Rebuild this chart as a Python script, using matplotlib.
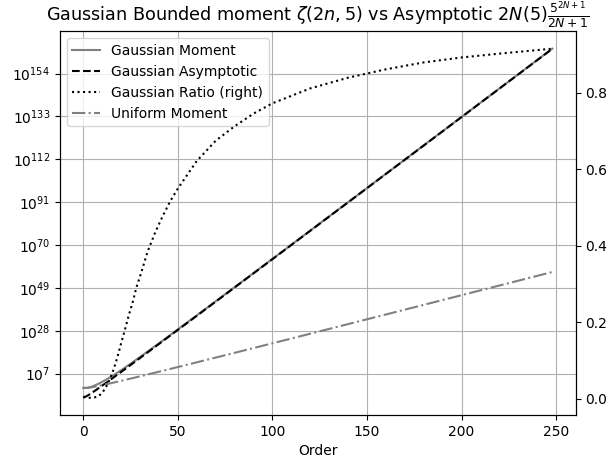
import numpy as np
import matplotlib
matplotlib.use("Agg")
import matplotlib.pyplot as plt
from matplotlib.ticker import NullLocator

order = [0, 2, 4, 6, 8, 10, 12, 14, 16, 18, 20, 22, 24, 26, 28, 30, 34, 38, 42, 46,
         50, 60, 70, 80, 90, 100, 120, 140, 160, 180, 200, 220, 248]

#log10 of the bounded Gaussian moment
gauss_moment_exp = [0.0, 0.0, 0.48, 1.18, 2.02, 2.97, 4.01, 5.11, 6.26, 7.45, 8.67, 9.93, 11.21,
                    12.51, 13.82, 15.14, 17.80, 20.50, 23.21, 25.94, 28.67, 35.53, 42.42, 49.33,
                    56.25, 63.17, 77.05, 90.96, 104.86, 118.79, 132.71, 146.64, 166.16]

#log10 of the asymptotic form
gauss_asym_exp = [-4.83, -3.91, -2.73, -1.48, -0.19, 1.12, 2.45, 3.78, 5.13, 6.47, 7.83, 9.19, 10.55,
                  11.91, 13.28, 14.65, 17.39, 20.14, 22.89, 25.65, 28.41, 35.32, 42.25, 49.18,
                  56.12, 63.06, 76.96, 90.88, 104.80, 118.73, 132.66, 146.60, 166.12]

#Ratio asymptotic / moment (right axis)
gauss_ratio = [0.005, 0.002, 0.002, 0.003, 0.006, 0.015, 0.030, 0.050, 0.076, 0.108, 0.145, 0.180,
               0.218, 0.250, 0.290, 0.320, 0.385, 0.435, 0.478, 0.517, 0.550, 0.622, 0.675, 0.713,
               0.746, 0.773, 0.812, 0.840, 0.862, 0.880, 0.893, 0.903, 0.916]

#log10 of the uniform moment
uniform_moment_exp = [0.0, 0.0, 0.26, 0.59, 0.95, 1.34, 1.75, 2.16, 2.59, 3.02, 3.45, 3.89, 4.33,
                      4.77, 5.22, 5.67, 6.57, 7.47, 8.39, 9.30, 10.22, 12.53, 14.85, 17.18, 19.51,
                      21.85, 26.54, 31.25, 35.96, 40.68, 45.41, 50.14, 56.77]

#Left axis tick exponents
ytick_exp = [7, 28, 49, 70, 91, 112, 133, 154]

fig, ax = plt.subplots(figsize=(6.08, 4.66), dpi=100)
fig.subplots_adjust(left=0.0985, right=0.947, bottom=0.109, top=0.933)

l1, = ax.plot(order, 10.0 ** np.array(gauss_moment_exp), color="gray", linestyle="-", label="Gaussian Moment")
l2, = ax.plot(order, 10.0 ** np.array(gauss_asym_exp), color="black", linestyle="--", label="Gaussian Asymptotic")
l4, = ax.plot(order, 10.0 ** np.array(uniform_moment_exp), color="gray", linestyle="-.", label="Uniform Moment")
ax.set_yscale("log")
ax.set_yticks([10.0 ** e for e in ytick_exp])
ax.yaxis.set_minor_locator(NullLocator())
ax.grid(True)
ax.set_xlabel("Order")

#Ratio on the right hand axis
ax2 = ax.twinx()
l3, = ax2.plot(order, gauss_ratio, color="black", linestyle=":", label="Gaussian Ratio (right)")

ax.set_title(r"Gaussian Bounded moment $\zeta(2n, 5)$ vs Asymptotic $2N(5)\frac{5^{2N+1}}{2N+1}$",
             fontsize=12.7)
ax.legend(handles=[l1, l2, l3, l4], loc="upper left")

plt.savefig("out.png")
